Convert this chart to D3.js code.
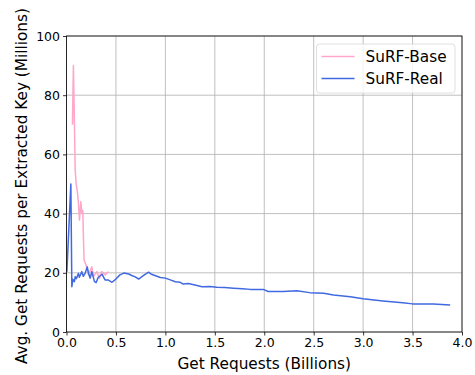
<!DOCTYPE html>
<html>
<head>
<meta charset="utf-8">
<script src="https://cdn.jsdelivr.net/npm/d3@7"></script>
<style>
  html, body { margin: 0; padding: 0; background: #fff; }
  svg { display: block; font-family: "DejaVu Sans", sans-serif; }
</style>
</head>
<body>
<svg id="chart" width="475" height="375"></svg>
<script>
// Cumulative get requests (billions) vs. average gets per extracted key (millions)
const baseX = [0.060, 0.070, 0.088, 0.098, 0.111, 0.121, 0.131, 0.145, 0.155, 0.165, 0.171, 0.178, 0.198, 0.222, 0.256, 0.273, 0.307, 0.333, 0.357, 0.391, 0.424];
const baseY = [70, 90, 54.7, 50, 47, 43.5, 37.8, 44, 40, 41, 32, 24.3, 22.6, 19.3, 22, 18.7, 20.4, 18.1, 20.4, 19.3, 20.4];

const realX = [0.004, 0.044, 0.054, 0.065, 0.080, 0.088, 0.100, 0.120, 0.130, 0.155, 0.170, 0.190, 0.210, 0.225, 0.240, 0.256, 0.283, 0.300, 0.320, 0.360, 0.390, 0.420, 0.460, 0.490, 0.540, 0.580, 0.630, 0.660, 0.690, 0.730, 0.780, 0.830, 0.860, 0.900, 0.950, 1.000, 1.050, 1.100, 1.150, 1.180, 1.230, 1.300, 1.370, 1.450, 1.520, 1.600, 1.690, 1.780, 1.860, 1.990, 2.040, 2.190, 2.330, 2.460, 2.600, 2.700, 2.870, 3.000, 3.200, 3.400, 3.500, 3.710, 3.880];
const realY = [20.4, 50, 15.3, 17.8, 17, 18.7, 18, 19.8, 18.5, 20.4, 18.8, 20, 22, 19.5, 18.2, 20.4, 17, 16.7, 18.4, 19.5, 17.6, 17.6, 16.8, 17.6, 19.3, 19.9, 19.6, 19.1, 18.7, 17.9, 19.1, 20.2, 19.5, 19, 18.4, 18.2, 17.6, 17, 16.8, 16.2, 16.4, 15.9, 15.3, 15.4, 15.1, 15.0, 14.8, 14.6, 14.4, 14.4, 13.7, 13.7, 13.9, 13.3, 13.1, 12.5, 11.9, 11.2, 10.5, 9.9, 9.5, 9.5, 9.1];

const xTicks = [0, 0.5, 1.0, 1.5, 2.0, 2.5, 3.0, 3.5, 4.0];
const yTicks = [0, 20, 40, 60, 80, 100];

const seriesNames = ["SuRF-Base", "SuRF-Real"];
const seriesColors = ["#ffa6c9", "#4169e1"];

const margin = { left: 66.5, right: 13, top: 36, bottom: 43 };
const W = 475, H = 375;
const svg = d3.select("#chart");

const x = d3.scaleLinear().domain([0, 4]).range([margin.left, W - margin.right]);
const y = d3.scaleLinear().domain([0, 100]).range([H - margin.bottom, margin.top]);

// grid
const grid = svg.append("g").attr("stroke", "#b0b0b0").attr("stroke-width", 0.8);
grid.selectAll("line.gx").data(xTicks).join("line")
  .attr("x1", d => x(d)).attr("x2", d => x(d))
  .attr("y1", y(0)).attr("y2", y(100));
grid.selectAll("line.gy").data(yTicks).join("line")
  .attr("x1", x(0)).attr("x2", x(4))
  .attr("y1", d => y(d)).attr("y2", d => y(d));

// series
const line = d3.line().x(d => x(d[0])).y(d => y(d[1]));
const base = baseX.map((v, i) => [v, baseY[i]]);
const real = realX.map((v, i) => [v, realY[i]]);

svg.append("path").datum(base)
  .attr("fill", "none").attr("stroke", seriesColors[0]).attr("stroke-width", 1.5)
  .attr("stroke-linejoin", "round").attr("d", line);
svg.append("path").datum(real)
  .attr("fill", "none").attr("stroke", seriesColors[1]).attr("stroke-width", 1.5)
  .attr("stroke-linejoin", "round").attr("d", line);

// axes
const xAxis = svg.append("g").attr("transform", `translate(0,${y(0)})`)
  .call(d3.axisBottom(x).tickValues(xTicks).tickFormat(d3.format(".1f")).tickSize(3.5).tickPadding(3));
const yAxis = svg.append("g").attr("transform", `translate(${x(0)},0)`)
  .call(d3.axisLeft(y).tickValues(yTicks).tickFormat(d3.format("d")).tickSize(3.5).tickPadding(3));
[xAxis, yAxis].forEach(g => {
  g.selectAll("text").attr("font-size", 12.5).attr("fill", "#000")
    .attr("font-family", "DejaVu Sans");
  g.selectAll("line").attr("stroke", "#000").attr("stroke-width", 0.8);
  g.select(".domain").remove();
});

// frame
svg.append("rect")
  .attr("x", x(0)).attr("y", y(100))
  .attr("width", x(4) - x(0)).attr("height", y(0) - y(100))
  .attr("fill", "none").attr("stroke", "#000").attr("stroke-width", 0.8);

// axis titles
svg.append("text")
  .attr("x", (x(0) + x(4)) / 2).attr("y", 369)
  .attr("text-anchor", "middle").attr("font-size", 15.3)
  .text("Get Requests (Billions)");
svg.append("text")
  .attr("transform", "translate(26.5,186) rotate(-90)")
  .attr("text-anchor", "middle").attr("font-size", 15.3)
  .text("Avg. Get Requests per Extracted Key (Millions)");

// legend
const lg = svg.append("g").attr("transform", "translate(316.5,44)");
lg.append("rect").attr("width", 138.5).attr("height", 49).attr("rx", 3)
  .attr("fill", "#fff").attr("fill-opacity", 0.8)
  .attr("stroke", "#d8d8d8").attr("stroke-width", 0.8);
seriesNames.forEach((name, i) => {
  const yy = 12.5 + i * 22;
  lg.append("line").attr("x1", 5).attr("x2", 38).attr("y1", yy).attr("y2", yy)
    .attr("stroke", seriesColors[i]).attr("stroke-width", 1.5);
  lg.append("text").attr("x", 49).attr("y", yy + 5.3)
    .attr("font-size", 15.3).text(name);
});
</script>
</body>
</html>
